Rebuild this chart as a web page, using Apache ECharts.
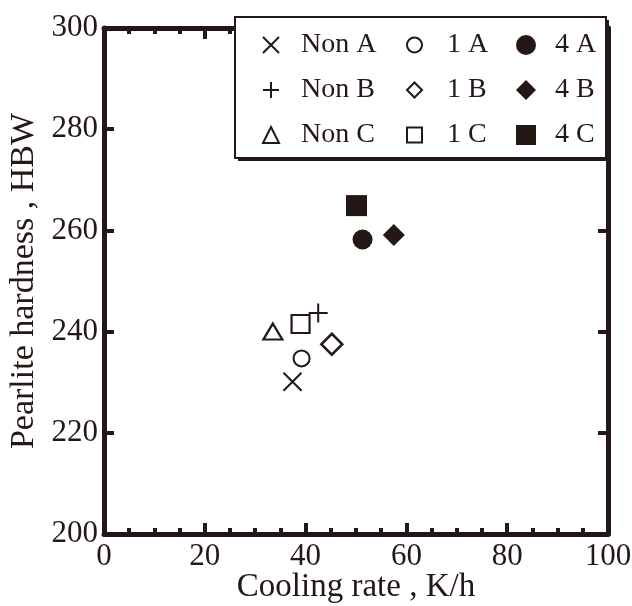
<!DOCTYPE html>
<html>
<head>
<meta charset="utf-8">
<script src="https://cdn.jsdelivr.net/npm/echarts@6/dist/echarts.min.js"></script>
<style>
html,body{margin:0;padding:0;background:#fff;}
#chart{width:632px;height:606px;}
</style>
</head>
<body>
<div id="chart"></div>
<script>
// ---- data ----
const seriesNames = ['Non A', 'Non B', 'Non C', '1 A', '1 B', '1 C', '4 A', '4 B', '4 C'];
const coolingRate = [37.4, 42.5, 33.5, 39.2, 45.2, 39.0, 51.3, 57.5, 50.1];
const hardness    = [230.1, 243.7, 240.0, 234.7, 237.5, 241.5, 258.2, 259.1, 264.9];
const xTicks = [0, 20, 40, 60, 80, 100];
const yTicks = [200, 220, 240, 260, 280, 300];

const INK = '#231815';
const FONT = '"Liberation Serif", "Times New Roman", serif';

const crossPath = 'path://M0,0L20,20M20,0L0,20';
const plusPath = 'path://M10,0L10,20M0,10L20,10';

const markerDefs = {
  'Non A': { symbol: crossPath, size: 18, style: { color: 'rgba(0,0,0,0)', borderColor: INK, borderWidth: 2, opacity: 1 } },
  'Non B': { symbol: plusPath, size: 19, style: { color: 'rgba(0,0,0,0)', borderColor: INK, borderWidth: 2, opacity: 1 } },
  'Non C': { symbol: 'triangle', size: [19, 16], style: { color: '#fff', borderColor: INK, borderWidth: 2.2, opacity: 1 } },
  '1 A':   { symbol: 'circle', size: 16, style: { color: '#fff', borderColor: INK, borderWidth: 2, opacity: 1 } },
  '1 B':   { symbol: 'diamond', size: 21, style: { color: '#fff', borderColor: INK, borderWidth: 2.5, opacity: 1 } },
  '1 C':   { symbol: 'rect', size: 18, style: { color: '#fff', borderColor: INK, borderWidth: 2.2, opacity: 1 } },
  '4 A':   { symbol: 'circle', size: 20, style: { color: INK, borderColor: INK, borderWidth: 0, opacity: 1 } },
  '4 B':   { symbol: 'diamond', size: 22, style: { color: INK, borderColor: INK, borderWidth: 0, opacity: 1 } },
  '4 C':   { symbol: 'rect', size: 21, style: { color: INK, borderColor: INK, borderWidth: 0, opacity: 1 } }
};

const series = seriesNames.map((name, i) => ({
  name: name,
  type: 'scatter',
  xAxisIndex: 0,
  yAxisIndex: 0,
  symbol: markerDefs[name].symbol,
  symbolSize: markerDefs[name].size,
  itemStyle: markerDefs[name].style,
  emphasis: { disabled: true },
  data: [[coolingRate[i], hardness[i]]],
  z: 3
}));

const legendText = { fontFamily: FONT, fontSize: 28, color: INK, lineHeight: 30 };
function makeLegend(names, left, size, padLeft) {
  return {
    data: names,
    orient: 'vertical',
    left: left,
    top: 30,
    padding: 0,
    itemWidth: size,
    itemHeight: size,
    itemGap: 15,
    selectedMode: false,
    textStyle: Object.assign({}, legendText, { padding: [0, 0, 0, padLeft] }),
    z: 10
  };
}

function axisLine() { return { show: true, onZero: false, lineStyle: { color: INK, width: 5 } }; }
function majorTick(len) { return { show: true, inside: true, length: len, lineStyle: { color: INK, width: 4 } }; }
function minorTick() { return { show: true, splitNumber: 4, length: 6, lineStyle: { color: INK, width: 4 } }; }

const option = {
  animation: false,
  backgroundColor: '#fff',
  grid: { left: 104, right: 24, top: 28, bottom: 72, containLabel: false, outerBoundsMode: 'none' },
  xAxis: [
    {
      type: 'value', min: xTicks[0], max: xTicks[xTicks.length - 1], interval: 20,
      position: 'bottom',
      name: 'Cooling rate , K/h', nameLocation: 'middle', nameGap: 37, nameMoveOverlap: false,
      nameTextStyle: { fontFamily: FONT, fontSize: 33, color: INK },
      axisLine: axisLine(),
      axisTick: majorTick(11),
      minorTick: minorTick(),
      axisLabel: { show: true, fontFamily: FONT, fontSize: 31, color: INK, margin: 7 },
      splitLine: { show: false }, minorSplitLine: { show: false }
    },
    {
      type: 'value', min: xTicks[0], max: xTicks[xTicks.length - 1], interval: 20,
      position: 'top',
      axisLine: axisLine(),
      axisTick: majorTick(11),
      minorTick: minorTick(),
      axisLabel: { show: false },
      splitLine: { show: false }, minorSplitLine: { show: false }
    }
  ],
  yAxis: [
    {
      type: 'value', min: yTicks[0], max: yTicks[yTicks.length - 1], interval: 20,
      position: 'left',
      name: 'Pearlite hardness , HBW', nameLocation: 'middle', nameGap: 63, nameRotate: 90, nameMoveOverlap: false,
      nameTextStyle: { fontFamily: FONT, fontSize: 34, color: INK },
      axisLine: axisLine(),
      axisTick: majorTick(10),
      axisLabel: { show: true, fontFamily: FONT, fontSize: 31, color: INK, margin: 6, padding: [0, 0, 10, 0] },
      splitLine: { show: false }
    },
    {
      type: 'value', min: yTicks[0], max: yTicks[yTicks.length - 1], interval: 20,
      position: 'right',
      axisLine: axisLine(),
      axisTick: majorTick(10),
      axisLabel: { show: false },
      splitLine: { show: false }
    }
  ],
  legend: [
    makeLegend(['Non A', 'Non B', 'Non C'], 262, 16, 17),
    makeLegend(['1 A', '1 B', '1 C'], 406, 15, 20),
    makeLegend(['4 A', '4 B', '4 C'], 516, 20, 14)
  ],
  graphic: [
    { type: 'rect', z: 8, shape: { x: 238, y: 20, width: 371, height: 141 }, style: { fill: INK } },
    { type: 'rect', z: 9, shape: { x: 235, y: 17, width: 371, height: 141 }, style: { fill: '#fff', stroke: INK, lineWidth: 2 } }
  ],
  series: series
};

const chart = echarts.init(document.getElementById('chart'), null, { renderer: 'canvas' });
chart.setOption(option);
</script>
</body>
</html>
